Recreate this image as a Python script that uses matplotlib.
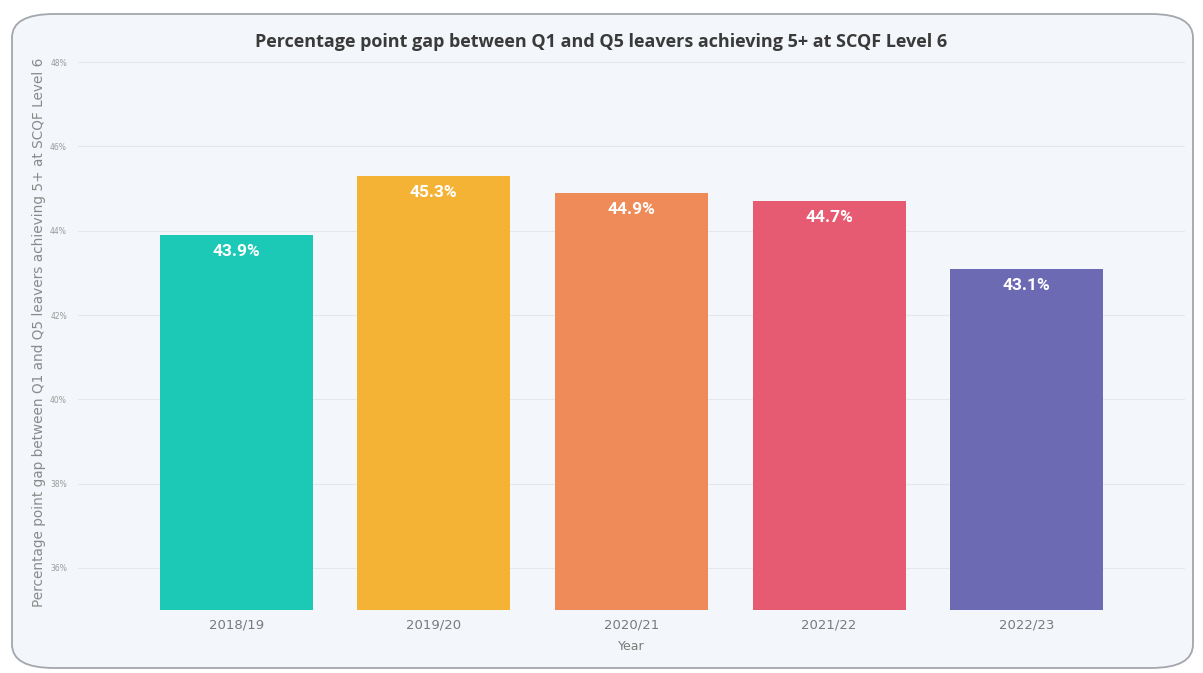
import matplotlib.pyplot as plt
from matplotlib.patches import FancyBboxPatch
from matplotlib.ticker import FuncFormatter

years = ["2018/19", "2019/20", "2020/21", "2021/22", "2022/23"]
gap_pct = [43.9, 45.3, 44.9, 44.7, 43.1]
bar_colors = ["#1bc9b6", "#f5b335", "#ee8b59", "#e65a72", "#6b6ab3"]
y_ticks = [36, 38, 40, 42, 44, 46, 48]

fig = plt.figure(figsize=(12.03, 6.73), dpi=100, facecolor="white")

# rounded card behind the chart
card = FancyBboxPatch((12 / 1203, 5 / 673), 1181 / 1203, 654 / 673,
                      boxstyle="round,pad=0,rounding_size=0.035",
                      transform=fig.transFigure, facecolor="#f3f6fa",
                      edgecolor="#a3a7ad", linewidth=1.3, zorder=-1)
fig.add_artist(card)

ax = fig.add_axes([78 / 1203, 63 / 673, 1107 / 1203, 618 / 673 - 63 / 673])
ax.set_facecolor("none")
ax.set_zorder(1)

x = range(len(years))
bars = ax.bar(x, gap_pct, width=0.775, color=bar_colors, zorder=2)

for rect, val in zip(bars, gap_pct):
    ax.annotate(f"{val:.1f}%", (rect.get_x() + rect.get_width() / 2, val),
                xytext=(0, -12), textcoords="offset points",
                ha="center", va="center", color="white",
                fontsize=12.5, fontweight="bold", family="Roboto", zorder=3)

ax.set_ylim(35, 48.17)
ax.set_xlim(-0.8, 4.80)
ax.set_yticks(y_ticks)
ax.yaxis.set_major_formatter(FuncFormatter(lambda v, p: f"{v:.0f}%"))
ax.set_xticks(list(x))
ax.set_xticklabels(years)
ax.grid(axis="y", color="#e4e8ed", linewidth=0.8, zorder=0)
ax.tick_params(axis="y", length=0, labelsize=5.5, labelcolor="#9a9a9a", pad=8)
ax.tick_params(axis="x", length=0, labelsize=9.5, labelcolor="#7a7a7a", pad=6)
for s in ax.spines.values():
    s.set_visible(False)

ax.set_xlabel("Year", fontsize=9, color="#7a7a7a", labelpad=6)
ax.set_ylabel("Percentage point gap between Q1 and Q5 leavers achieving 5+ at SCQF Level 6",
              fontsize=9.8, color="#8a8a8a", labelpad=3)

fig.text(0.5, 1 - 42 / 673,
         "Percentage point gap between Q1 and Q5 leavers achieving 5+ at SCQF Level 6",
         ha="center", va="center", fontsize=13, fontweight="bold",
         color="#3a3a3a", family="Open Sans")

fig.savefig("out.png", dpi=100, facecolor="white")
